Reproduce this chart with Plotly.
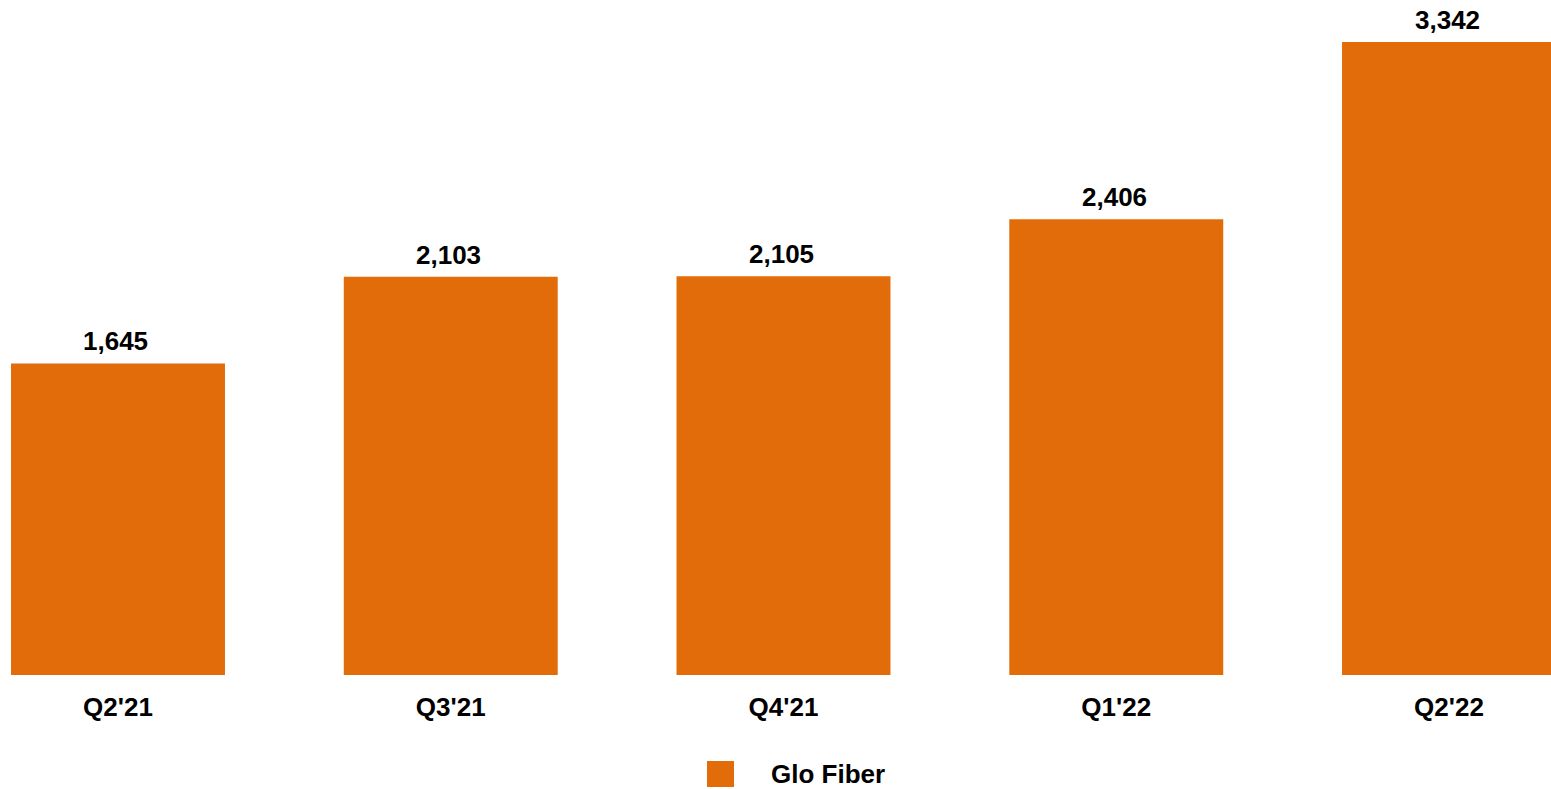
import plotly.graph_objects as go

# Glo Fiber subscribers by quarter
quarters = ["Q2'21", "Q3'21", "Q4'21", "Q1'22", "Q2'22"]
glo_fiber = [1645, 2103, 2105, 2406, 3342]

series_name = "Glo Fiber"
bar_color = "#E36C0A"
font_family = "Liberation Sans, Arial, sans-serif"

fig = go.Figure()
fig.add_trace(go.Bar(
    x=quarters,
    y=glo_fiber,
    name=series_name,
    marker=dict(color=bar_color, line=dict(width=0)),
    width=0.643,
    showlegend=False,
))

# Value labels above each bar
for q, v in zip(quarters, glo_fiber):
    fig.add_annotation(
        x=q, y=v, text=f"{v:,}", showarrow=False,
        xanchor="center", yanchor="bottom", yshift=5, xshift=-2,
        font=dict(family=font_family, size=26, color="#000000", weight="bold"),
    )

# Legend swatch and label below the axis
fig.add_shape(
    type="rect", xref="paper", yref="paper",
    x0=707 / 1551, x1=734 / 1551,
    y0=(789 - 787 - 114) / 675, y1=(789 - 761 - 114) / 675,
    fillcolor=bar_color, line=dict(width=0),
)
fig.add_annotation(
    text=series_name, xref="paper", yref="paper",
    x=769 / 1551, y=(789 - 774 - 114) / 675,
    xanchor="left", yanchor="middle", showarrow=False,
    font=dict(family=font_family, size=26, color="#000000", weight="bold"),
)

fig.update_layout(
    width=1551, height=789,
    margin=dict(l=0, r=0, t=0, b=114),
    paper_bgcolor="white", plot_bgcolor="white",
    xaxis=dict(
        type="category",
        range=[-0.3546, 4.3065],
        showgrid=False, zeroline=False, showline=False, ticks="",
        tickfont=dict(family=font_family, size=26, color="#000000", weight="bold"),
        ticklabelstandoff=14,
    ),
    yaxis=dict(
        range=[0, 3563.8],
        visible=False, showgrid=False, zeroline=False,
    ),
)

fig.write_html("out.html")
